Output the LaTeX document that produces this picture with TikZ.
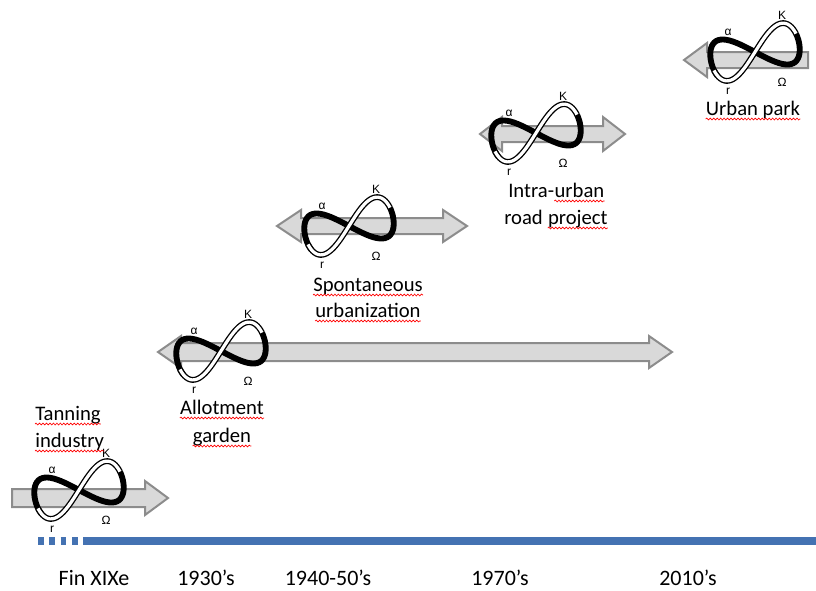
\documentclass[tikz,border=0pt]{standalone}
\usepackage{fontspec}
\setmainfont{Carlito}
\newfontfamily\greekfont{Liberation Sans}
\usepackage{xcolor}
\usepackage{tikz}
\usetikzlibrary{calc}
\usetikzlibrary{decorations.pathmorphing}

\definecolor{arrowfill}{RGB}{217,217,217}
\definecolor{arrowline}{RGB}{140,140,140}
\definecolor{timeblue}{RGB}{68,114,178}

\tikzset{
	greyarrow/.style={fill=arrowfill, draw=arrowline, line width=1.5pt, line join=miter},
	backloop/.style={line width=4.4pt, black},
	frontloop/.style={draw=black, double=white, line width=1pt, double distance=2.4pt},
	cyclbl/.style={font=\greekfont\fontsize{9}{10}\selectfont, inner sep=0pt},
	lbl/.style={font=\fontsize{15.5}{19}\selectfont, inner sep=0pt, anchor=base},
	yr/.style={font=\fontsize{16.5}{20}\selectfont, inner sep=0pt, anchor=base},
	spell/.style={red, line width=0.5pt, decorate, decoration={snake, amplitude=0.7pt, segment length=2.6pt}},
	cycle/.pic={
		\begin{scope}[rotate=15]
			\draw[backloop] plot[domain=80:290, samples=50, smooth] ({45*sin(\x)},{-21*sin(2*\x)});
			\draw[frontloop] plot[domain=280:440, samples=40, smooth] ({45*sin(\x)},{-21*sin(2*\x)});
		\end{scope}
		\node[cyclbl] (-K) at (27,-37) {K};
		\node[cyclbl] (-a) at (-27,-20) {α};
		\node[cyclbl] (-O) at (27,30) {Ω};
		\node[cyclbl] (-r) at (-27,39) {r};
	}
}
\newcommand{\spellunder}[1]{\draw[spell] ([yshift=-3pt]#1.base west) -- ([yshift=-3pt]#1.base east);}

\begin{document}
\begin{tikzpicture}[x=0.75pt,y=-0.75pt]
	\useasboundingbox (0,0) rectangle (816,590);
	% time line
	\draw[timeblue, line width=6pt, dash pattern=on 4.25pt off 4.25pt] (38,541) -- (78,541);
	\draw[timeblue, line width=6pt] (83,541) -- (816,541);
	\node[yr] (fin) at (94,585) {Fin XIXe};
	\node[yr] (y1930) at (206,585) {1930’s};
	\node[yr] (y1940) at (328,585) {1940-50’s};
	\node[yr] (y1970) at (500,585) {1970’s};
	\node[yr] (y2010) at (688,585) {2010’s};
	% arrows
	\draw[greyarrow] (12,489) -- (145,489) -- (145,481) -- (168,498) -- (145,515) -- (145,507) -- (12,507) -- cycle;
	\draw[greyarrow] (158,352) -- (181,336) -- (181,343) -- (649,343) -- (649,336) -- (672,352) -- (649,368) -- (649,361) -- (181,361) -- (181,368) -- cycle;
	\draw[greyarrow] (277,226) -- (301,210) -- (301,218) -- (443,218) -- (443,210) -- (467,226) -- (443,242) -- (443,234) -- (301,234) -- (301,242) -- cycle;
	\draw[greyarrow] (480,134) -- (502,117) -- (502,126) -- (603,126) -- (603,117) -- (625,134) -- (603,151) -- (603,142) -- (502,142) -- (502,151) -- cycle;
	\draw[greyarrow] (684,60) -- (707,43) -- (707,52) -- (808,52) -- (808,68) -- (707,68) -- (707,77) -- cycle;
	% adaptive cycles
	\pic (tan) at (79,490) {cycle};
	\pic (all) at (221,351) {cycle};
	\pic (spo) at (349,226) {cycle};
	\pic (int) at (536,133) {cycle};
	\pic (urb) at (755,52) {cycle};
	% labels
	\node[lbl, anchor=base west] (tan1) at (35,420) {Tanning};
	\node[lbl, anchor=base west] (tan2) at (35,447) {industry};
	\node[lbl] (all1) at (222,414) {Allotment};
	\node[lbl] (all2) at (222,442) {garden};
	\node[lbl] (spo1) at (368,291) {Spontaneous};
	\node[lbl] (spo2) at (368,317) {urbanization};
	\node[lbl, anchor=base west] (int1a) at (508,197) {Intra-};
	\node[lbl, anchor=base west] (int1b) at (int1a.base east) {urban};
	\node[lbl, anchor=base west] (int2a) at (504,224) {road};
	\node[lbl, anchor=base west] (int2b) at ($(int2a.base east)+(4.7,0)$) {project};
	\node[lbl] (urb1) at (753,115) {Urban park};
	% spelling marks
	\spellunder{tan1}
	\spellunder{tan2}
	\spellunder{all1}
	\spellunder{all2}
	\spellunder{spo1}
	\spellunder{spo2}
	\spellunder{int1b}
	\spellunder{int2b}
	\spellunder{urb1}
\end{tikzpicture}
\end{document}
